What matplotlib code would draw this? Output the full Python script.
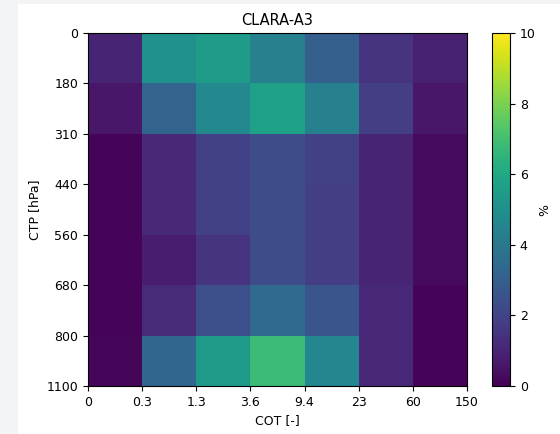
#!/usr/bin/env python3
"""CLARA-A3 joint COT/CTP histogram."""
import matplotlib
matplotlib.use("Agg")
import matplotlib.pyplot as plt
import numpy as np
from matplotlib.patches import Rectangle

cot_labels = ["0", "0.3", "1.3", "3.6", "9.4", "23", "60", "150"]
ctp_labels = ["0", "180", "310", "440", "560", "680", "800", "1100"]

# frequency (%) per CTP bin (rows, top to bottom) and COT bin (columns)
row_0_180 = [1.0, 5.0, 5.5, 4.3, 3.0, 1.5, 0.9]
row_180_310 = [0.6, 3.2, 4.7, 5.7, 4.3, 1.8, 0.6]
row_310_440 = [0.1, 1.1, 1.9, 2.3, 1.9, 1.0, 0.3]
row_440_560 = [0.1, 1.1, 1.9, 2.3, 1.8, 1.0, 0.3]
row_560_680 = [0.1, 0.8, 1.5, 2.3, 1.8, 1.0, 0.3]
row_680_800 = [0.1, 1.2, 2.4, 3.4, 2.6, 1.1, 0.1]
row_800_1100 = [0.15, 3.3, 5.4, 6.8, 4.6, 1.1, 0.1]

hist = np.array([row_0_180, row_180_310, row_310_440, row_440_560,
                 row_560_680, row_680_800, row_800_1100])

fig = plt.figure(figsize=(5.6, 4.34), dpi=100, facecolor="#f3f4f6")
fig.patches.append(Rectangle((18 / 560, 0), 1, 1 - 4 / 434, transform=fig.transFigure,
                             facecolor="white", edgecolor="none", zorder=-1))

ax = fig.add_axes([88 / 560, 48 / 434, 379 / 560, 353 / 434])
cax = fig.add_axes([492 / 560, 48 / 434, 18 / 560, 353 / 434])

x = np.arange(len(cot_labels))
y = np.arange(len(ctp_labels))
mesh = ax.pcolormesh(x, y, hist, cmap="viridis", vmin=0, vmax=10)
ax.set_xlim(x[0], x[-1])
ax.set_ylim(y[-1], y[0])
ax.set_xticks(x)
ax.set_xticklabels(cot_labels)
ax.set_yticks(y)
ax.set_yticklabels(ctp_labels)
ax.tick_params(labelsize=9)
ax.set_xlabel("COT [-]", fontsize=9)
ax.set_ylabel("CTP [hPa]", fontsize=9)
ax.set_title("CLARA-A3", fontsize=10.5)

cbar = fig.colorbar(mesh, cax=cax)
cbar.set_label("%", fontsize=9, labelpad=2)
cbar.ax.tick_params(labelsize=9)

fig.savefig("out.png", dpi=100, facecolor=fig.get_facecolor())
